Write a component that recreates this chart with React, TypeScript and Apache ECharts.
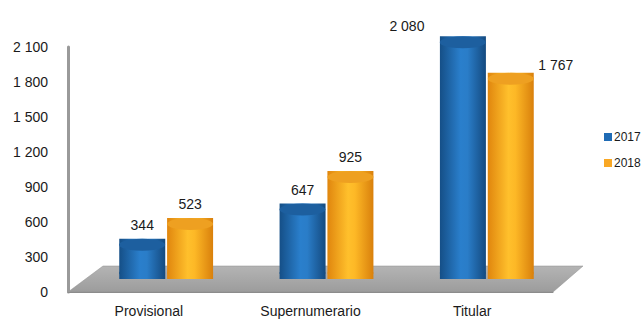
import React, { useEffect, useRef } from "react";
import * as echarts from "echarts";

const categories = ["Provisional", "Supernumerario", "Titular"];
const values2017 = [344, 647, 2080];
const values2018 = [523, 925, 1767];
const seriesNames = ["2017", "2018"];
const yTicks = { min: 0, max: 2100, interval: 300 };

const fmt = (v: number) => {
  const s = String(Math.round(v));
  return s.length > 3 ? s.slice(0, s.length - 3) + " " + s.slice(s.length - 3) : s;
};

const FONT = "Liberation Sans, Arial, sans-serif";

const blueGrad = () =>
  new echarts.graphic.LinearGradient(0, 0, 1, 0, [
    { offset: 0, color: "#154f87" },
    { offset: 0.45, color: "#2a7fcc" },
    { offset: 0.6, color: "#2a7dc8" },
    { offset: 1, color: "#144a80" },
  ]);
const orangeGrad = () =>
  new echarts.graphic.LinearGradient(0, 0, 1, 0, [
    { offset: 0, color: "#e0860e" },
    { offset: 0.45, color: "#ffc02c" },
    { offset: 0.6, color: "#fdb826" },
    { offset: 1, color: "#d9800c" },
  ]);

export default function App() {
  const ref = useRef<HTMLDivElement>(null);
  useEffect(() => {
    if (!ref.current) return;
    const chart = echarts.init(ref.current, undefined, { renderer: "svg" });
    const labelBase = {
      show: true,
      position: "top" as const,
      distance: 7,
      color: "#1a1a1a",
      fontSize: 14,
      fontFamily: FONT,
      formatter: (p: any) => fmt(p.value),
    };
    const data2017 = values2017.map((v, i) =>
      i === 2 ? { value: v, label: { offset: [-56, 4] } } : v
    );
    const data2018 = values2018.map((v, i) =>
      i === 2 ? { value: v, label: { offset: [45, 6] } } : v
    );
    const cap = (
      name: string,
      vals: number[],
      color: any,
      pos: "start" | "end",
      dx: number,
      z: number
    ) => ({
      name,
      type: "pictorialBar",
      xAxisIndex: 1,
      yAxisIndex: 1,
      symbol: "circle",
      symbolSize: [46, 12],
      symbolPosition: pos,
      symbolOffset: [dx, 0],
      barWidth: 46,
      barGap: "-100%",
      z,
      itemStyle: { color },
      data: vals,
    });
    chart.setOption({
      animation: false,
      backgroundColor: "#ffffff",
      textStyle: { fontFamily: FONT },
      grid: [
        { left: 68, right: 90, top: 47, bottom: 32 },
        { left: 86, right: 76, top: 34, bottom: 45 },
      ],
      xAxis: [
        {
          type: "category",
          gridIndex: 0,
          data: categories,
          axisLine: { lineStyle: { color: "#8c8c8c", width: 1 } },
          axisTick: { show: false },
          axisLabel: { color: "#1a1a1a", fontSize: 14, fontFamily: FONT, margin: 12 },
        },
        {
          type: "category",
          gridIndex: 1,
          data: categories,
          show: false,
        },
      ],
      yAxis: [
        {
          type: "value",
          gridIndex: 0,
          min: yTicks.min,
          max: yTicks.max,
          interval: yTicks.interval,
          axisLine: { show: true, lineStyle: { color: "#9a9a9a", width: 3 } },
          axisTick: { show: false },
          splitLine: { show: false },
          axisLabel: {
            color: "#1a1a1a",
            fontSize: 14,
            fontFamily: FONT,
            margin: 20,
            formatter: (v: number) => fmt(v),
          },
        },
        {
          type: "value",
          gridIndex: 1,
          min: yTicks.min,
          max: yTicks.max,
          interval: yTicks.interval,
          show: false,
          splitLine: { show: false },
        },
      ],
      legend: {
        orient: "vertical",
        left: 604,
        top: 131,
        padding: 0,
        itemWidth: 8,
        itemHeight: 8,
        itemGap: 14,
        icon: "rect",
        textStyle: { color: "#1a1a1a", fontSize: 12, fontFamily: FONT, padding: [0, 0, 0, -3] },
        data: [
          { name: seriesNames[0], itemStyle: { color: "#1f6bb5" } },
          { name: seriesNames[1], itemStyle: { color: "#f9a825" } },
        ],
      },
      graphic: [
        {
          type: "polygon",
          z: -1,
          shape: {
            points: [
              [103, 266],
              [583, 266],
              [553, 292],
              [68, 292],
            ],
          },
          style: {
            fill: new echarts.graphic.LinearGradient(0, 0, 0, 1, [
              { offset: 0, color: "#b4b4b4" },
              { offset: 1, color: "#9c9c9c" },
            ]),
            stroke: "#8e8e8e",
            lineWidth: 0.5,
          },
        },
      ],
      series: [
        {
          name: seriesNames[0],
          type: "bar",
          xAxisIndex: 1,
          yAxisIndex: 1,
          barWidth: 46,
          barGap: "4%",
          z: 2,
          itemStyle: { color: blueGrad() },
          label: labelBase,
          data: data2017,
        },
        {
          name: seriesNames[1],
          type: "bar",
          xAxisIndex: 1,
          yAxisIndex: 1,
          barWidth: 46,
          barGap: "4%",
          z: 2,
          itemStyle: { color: orangeGrad() },
          label: labelBase,
          data: data2018,
        },
        cap(seriesNames[0], values2017, blueGrad(), "start", -24, 1),
        cap(seriesNames[1], values2018, orangeGrad(), "start", 24, 1),
        cap(seriesNames[0], values2017, "#1d5f9f", "end", -24, 4),
        cap(seriesNames[1], values2018, "#eea021", "end", 24, 4),
      ],
    });
    return () => chart.dispose();
  }, []);
  return (
    <div
      ref={ref}
      style={{ position: "fixed", left: 0, top: 0, width: 643, height: 324 }}
    />
  );
}
